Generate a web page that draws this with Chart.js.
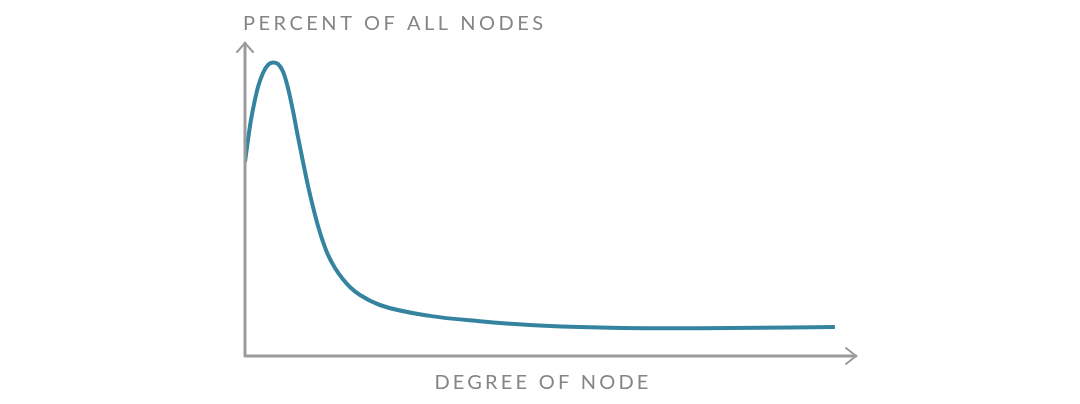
<!DOCTYPE html>
<html>
<head>
<meta charset="utf-8">
<script src="https://cdn.jsdelivr.net/npm/chart.js@4/dist/chart.umd.min.js"></script>
<style>
  html, body { margin: 0; padding: 0; background: #fff; }
  #wrap { width: 1080px; height: 404px; }
</style>
</head>
<body>
<div id="wrap"><canvas id="degreeChart"></canvas></div>
<script>
// degree of node (x) vs percent of all nodes (y)
const degree = [0, 0.49, 0.98, 1.48, 2.13, 2.95, 3.77, 4.59, 5.41, 6.23, 7.05, 7.87, 8.69, 9.51, 10.33, 11.15, 11.97, 12.79, 13.61, 14.75, 15.9, 17.2, 18.85, 22.1, 30.3, 38.5, 46.7, 58.2, 74.6, 96.7];
const percent = [62.4, 69.5, 75.9, 81.0, 86.5, 91.0, 93.6, 94.4, 93.9, 91.5, 86.2, 78.8, 70.4, 62.4, 54.7, 47.9, 41.8, 36.7, 32.5, 28.3, 25.1, 22.2, 19.6, 16.4, 12.9, 11.2, 10.0, 9.2, 8.9, 9.3];
const yTitle = 'PERCENT OF ALL NODES';
const xTitle = 'DEGREE OF NODE';

const points = degree.map((d, i) => ({ x: d, y: percent[i] }));

// draws the arrowed axes and the two axis captions
const arrowAxes = {
  id: 'arrowAxes',
  afterDraw(chart) {
    const { ctx, chartArea } = chart;
    const { left, right, top, bottom } = chartArea;
    ctx.save();
    ctx.strokeStyle = '#9b9b9b';
    ctx.lineWidth = 3;
    ctx.lineCap = 'round';
    ctx.lineJoin = 'round';
    ctx.beginPath();
    ctx.moveTo(left, top - 2);
    ctx.lineTo(left, bottom);
    ctx.lineTo(right + 1, bottom);
    ctx.stroke();
    ctx.lineWidth = 2;
    ctx.beginPath();
    ctx.moveTo(left - 8, top + 7);
    ctx.lineTo(left, top - 2);
    ctx.lineTo(left + 8, top + 7);
    ctx.moveTo(right - 9, bottom - 8);
    ctx.lineTo(right + 1, bottom);
    ctx.lineTo(right - 9, bottom + 8);
    ctx.stroke();

    ctx.fillStyle = '#858585';
    ctx.font = '400 20px Lato';
    ctx.letterSpacing = '3.5px';
    ctx.textBaseline = 'alphabetic';
    ctx.textAlign = 'left';
    ctx.fillText(yTitle, left - 2, 30);
    ctx.letterSpacing = '3.2px';
    ctx.textAlign = 'center';
    ctx.fillText(xTitle, (left + right) / 2 - 7, 389);
    ctx.restore();
  }
};

new Chart(document.getElementById('degreeChart'), {
  type: 'line',
  data: {
    datasets: [{
      data: points,
      borderColor: '#35849f',
      borderWidth: 4,
      pointRadius: 0,
      fill: false,
      cubicInterpolationMode: 'monotone'
    }]
  },
  options: {
    responsive: true,
    maintainAspectRatio: false,
    animation: false,
    layout: { padding: { left: 245, right: 225, top: 45, bottom: 48 } },
    plugins: { legend: { display: false }, tooltip: { enabled: false } },
    scales: {
      x: { type: 'linear', min: 0, max: 100, display: false },
      y: { min: 0, max: 100, display: false }
    }
  },
  plugins: [arrowAxes]
});
</script>
</body>
</html>
